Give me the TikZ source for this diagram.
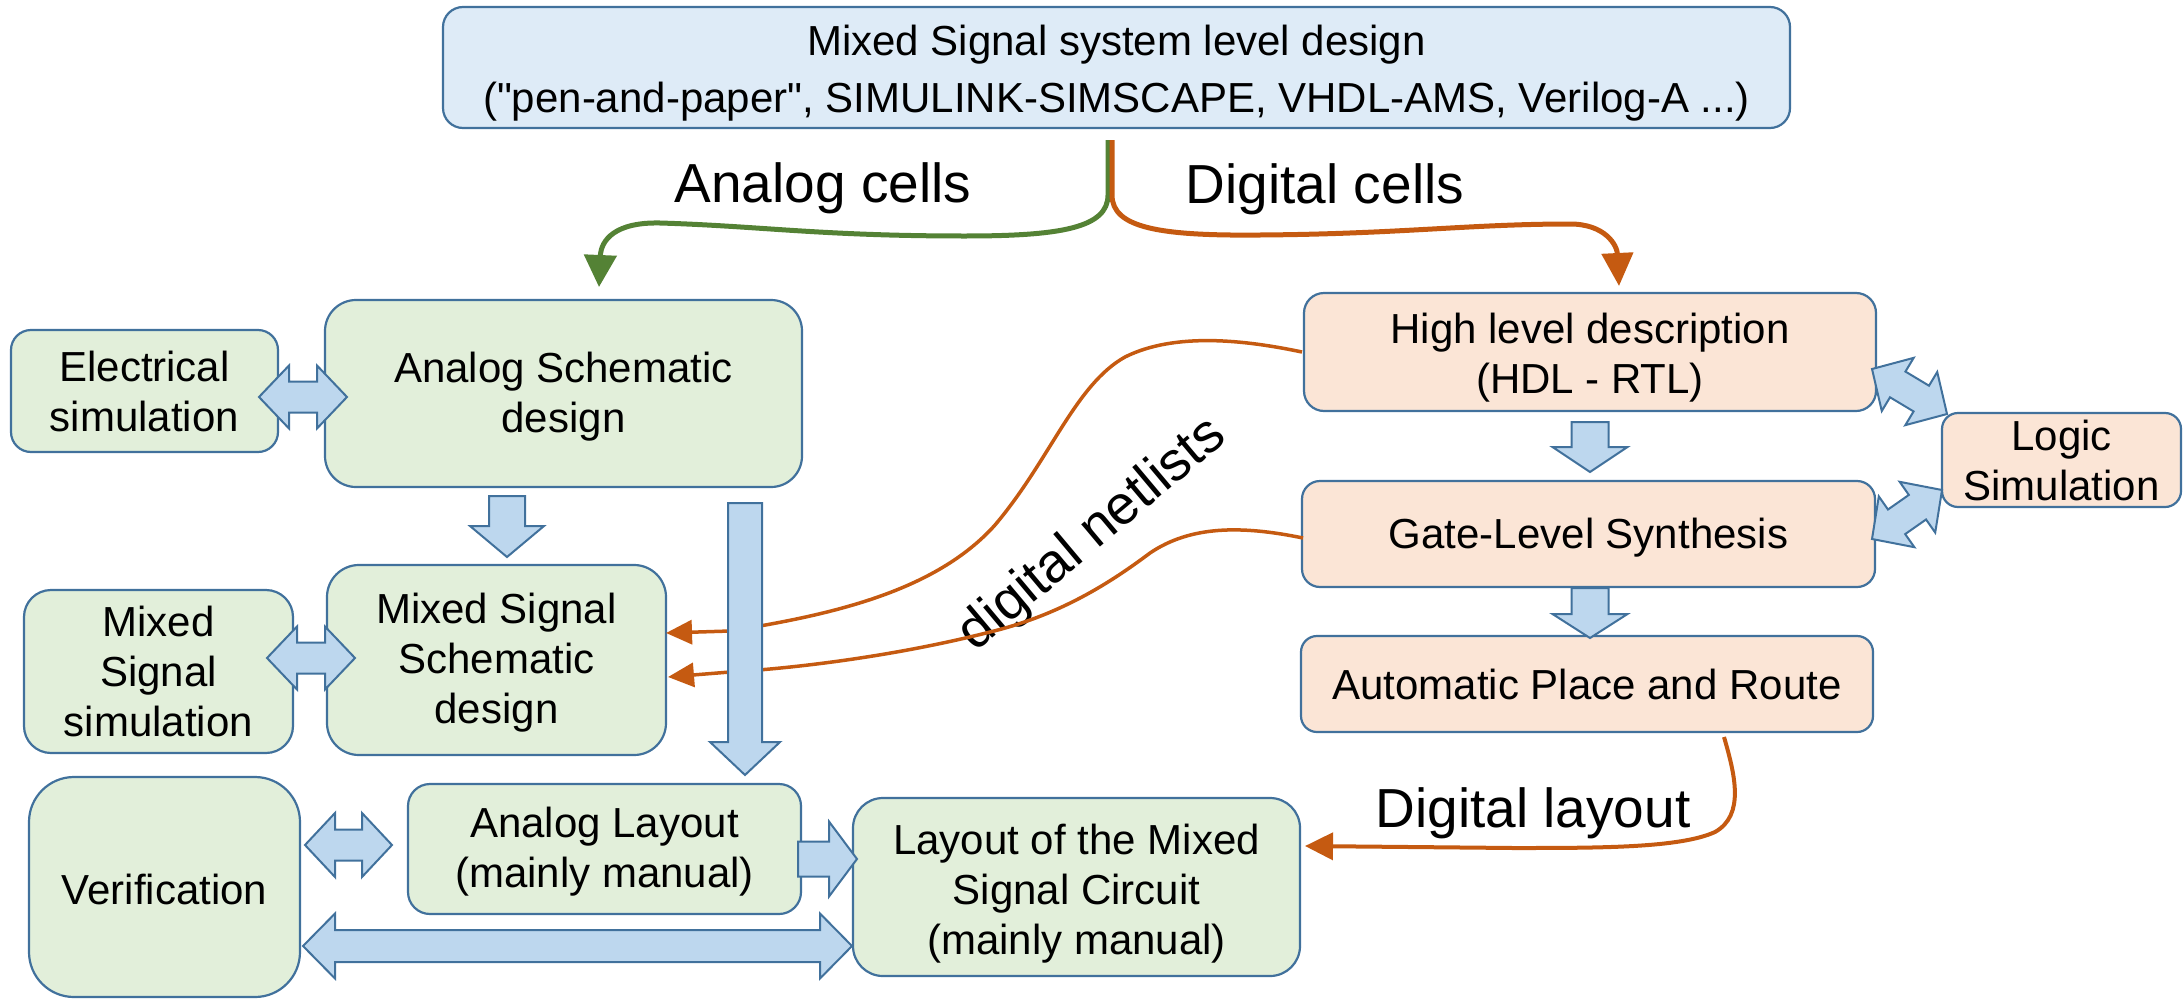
\documentclass[tikz,border=0pt]{standalone}
\usepackage{fontspec}
\setmainfont{Liberation Sans}[Ligatures=TeXOff]
\usetikzlibrary{calc,arrows.meta}
\definecolor{bordc}{HTML}{41719C}
\definecolor{gfill}{HTML}{E2EFDA}
\definecolor{ofill}{HTML}{FBE5D6}
\definecolor{bfill}{HTML}{DEEBF7}
\definecolor{afill}{HTML}{BDD7EE}
\definecolor{oline}{HTML}{C55A11}
\definecolor{gline}{HTML}{548235}
\tikzset{
  box/.style={draw=bordc,line width=2.2pt,inner sep=0pt,align=center,
    font=\fontsize{42}{50}\selectfont},
  gbox/.style={box,fill=gfill},
  obox/.style={box,fill=ofill},
  tbox/.style={box,fill=bfill},
  blk/.style={draw=bordc,fill=afill,line width=2pt,line join=miter},
  biglabel/.style={font=\fontsize{55}{60}\selectfont,inner sep=0pt},
  thickflow/.style={line width=5pt},
  thinflow/.style={line width=3.5pt,draw=oline},
}
\newcommand{\oneblk}[5]{%
 \draw[blk] ($(#1)!#3!90:(#2)$) -- ($(#2)!#5!(#1)!#3!-90:(#1)$) -- ($(#2)!#5!(#1)!#4!-90:(#1)$) -- (#2) -- ($(#2)!#5!(#1)!#4!90:(#1)$) -- ($(#2)!#5!(#1)!#3!90:(#1)$) -- ($(#1)!#3!-90:(#2)$) -- cycle;}
\newcommand{\twoblk}[5]{%
 \draw[blk] (#1) -- ($(#1)!#5!(#2)!#4!90:(#2)$) -- ($(#1)!#5!(#2)!#3!90:(#2)$) -- ($(#2)!#5!(#1)!#3!-90:(#1)$) -- ($(#2)!#5!(#1)!#4!-90:(#1)$) -- (#2) -- ($(#2)!#5!(#1)!#4!90:(#1)$) -- ($(#2)!#5!(#1)!#3!90:(#1)$) -- ($(#1)!#5!(#2)!#3!-90:(#2)$) -- ($(#1)!#5!(#2)!#4!-90:(#2)$) -- cycle;}
\begin{document}
\begin{tikzpicture}[x=1pt,y=-1pt]
\useasboundingbox (0,0) rectangle (2183,998);
% nodes
\node[tbox,minimum width=1347pt,minimum height=121pt,rounded corners=20pt] (top) at (1116.5,67.5) {};
\node[inner sep=0pt,align=center,font=\fontsize{42}{57}\selectfont] (topt) at (1116.5,73)
  {Mixed Signal system level design\\("pen-and-paper", SIMULINK-SIMSCAPE, VHDL-AMS, Verilog-A ...)};
\node[gbox,minimum width=267pt,minimum height=122pt,rounded corners=20pt] (elec) at (144.5,391) {Electrical\\simulation};
\node[gbox,minimum width=477pt,minimum height=187pt,rounded corners=31pt] (asd) at (563.5,393.5) {\rule{0pt}{36pt}Analog Schematic\\design};
\node[gbox,minimum width=339pt,minimum height=190pt,rounded corners=32pt] (mss) at (496.5,660) {\rule{0pt}{36pt}Mixed Signal\\Schematic\\design};
\node[gbox,minimum width=269pt,minimum height=163pt,rounded corners=27pt] (msim) at (158.5,671.5) {Mixed\\Signal\\simulation};
\node[gbox,minimum width=271pt,minimum height=220pt,rounded corners=45pt] (verif) at (164.5,887) {\rule{0pt}{36pt}Verification};
\node[gbox,minimum width=393pt,minimum height=130pt,rounded corners=22pt] (al) at (604.5,849) {\rule{0pt}{36pt}Analog Layout\\(mainly manual)};
\node[gbox,minimum width=447pt,minimum height=178pt,rounded corners=30pt] (lm) at (1076.5,887) {\rule{0pt}{44pt}Layout of the Mixed\\Signal Circuit\\(mainly manual)};
\node[obox,minimum width=572pt,minimum height=118pt,rounded corners=20pt] (hl) at (1590,352) {\rule{0pt}{41pt}High level description\\(HDL - RTL)};
\node[obox,minimum width=573pt,minimum height=106pt,rounded corners=18pt] (gate) at (1588.5,534) {\rule{0pt}{38pt}Gate-Level Synthesis};
\node[obox,minimum width=572pt,minimum height=96pt,rounded corners=16pt] (apr) at (1587,684) {Automatic Place and Route};
\node[obox,minimum width=239pt,minimum height=94pt,rounded corners=16pt] (logic) at (2061.5,460) {Logic\\Simulation};
% labels
\node[biglabel,anchor=base] (lac) at (823,202) {Analog cells};
\node[biglabel,anchor=base] (ldc) at (1325,203) {Digital cells};
\node[biglabel,anchor=base] (ldl) at (1533,827) {Digital layout};
\node[biglabel,rotate=40] (ldn) at (1093,535) {digital netlists};
% coordinates for flows
\coordinate (gs) at (1108,140);
\coordinate (os) at (1112,140);
\coordinate (gt) at (599,287);
\coordinate (ot) at (1619,286);
\coordinate (n1s) at (1302,352);
\coordinate (n1t) at (666,633);
\coordinate (n2s) at (1303,538);
\coordinate (n2t) at (668,677);
\coordinate (dls) at (1724,737);
\coordinate (dlt) at (1305,846);
% curved flows
\draw[thickflow,draw=gline,-{Triangle[length=32pt,width=32pt]}] (gs) -- (1108,195)
  .. controls (1108,228) and (1060,236) .. (965,236)
  .. controls (820,236) and (760,226) .. (660,223)
  .. controls (615,222) and (601,240) .. (gt);
\draw[thickflow,draw=oline,-{Triangle[length=33pt,width=31pt]}] (os) -- (1112,195)
  .. controls (1112,228) and (1160,236) .. (1260,235)
  .. controls (1400,234) and (1470,224) .. (1570,224)
  .. controls (1605,224) and (1617,245) .. (ot);
\draw[thinflow,-{Triangle[length=26pt,width=24pt]}] (n1s)
  .. controls (1245,340) and (1175,332) .. (1125,357)
  .. controls (1075,385) and (1050,460) .. (995,525)
  .. controls (935,592) and (830,615) .. (730,631) -- (n1t);
\draw[thinflow,-{Triangle[length=26pt,width=24pt]}] (n2s)
  .. controls (1240,525) and (1190,526) .. (1150,553)
  .. controls (1110,583) and (1060,615) .. (990,632)
  .. controls (900,655) and (800,668) .. (730,672) -- (n2t);
\draw[line width=4pt,draw=oline,-{Triangle[length=28pt,width=27pt]}] (dls)
  .. controls (1735,775) and (1745,815) .. (1715,832)
  .. controls (1680,848) and (1600,848) .. (1513,848) -- (dlt);
% block arrows
\coordinate (a1) at (259,397); \coordinate (b1) at (347,397);
\coordinate (a2) at (267,658); \coordinate (b2) at (355,658);
\coordinate (a3) at (305,845); \coordinate (b3) at (392,845);
\coordinate (a4) at (303,946); \coordinate (b4) at (852,946);
\coordinate (a5) at (798,859); \coordinate (b5) at (857,859);
\coordinate (a6) at (507,496); \coordinate (b6) at (507,557);
\coordinate (a7) at (745,503); \coordinate (b7) at (745,775);
\coordinate (a8) at (1590,422); \coordinate (b8) at (1590,472);
\coordinate (a9) at (1590,588); \coordinate (b9) at (1590,638);
\coordinate (a10) at (1872,369); \coordinate (b10) at (1947,414);
\coordinate (a11) at (1872,539); \coordinate (b11) at (1942,490);
\twoblk{a1}{b1}{15.5pt}{31.5pt}{30pt}
\twoblk{a2}{b2}{15.5pt}{31.5pt}{30pt}
\twoblk{a3}{b3}{15.5pt}{32pt}{30pt}
\twoblk{a4}{b4}{16pt}{32.5pt}{32pt}
\oneblk{a5}{b5}{17.5pt}{37.5pt}{28pt}
\oneblk{a6}{b6}{18pt}{37pt}{31pt}
\oneblk{a7}{b7}{17pt}{35pt}{33pt}
\oneblk{a8}{b8}{18.5pt}{37.5pt}{25pt}
\oneblk{a9}{b9}{18.5pt}{37.5pt}{24pt}
\twoblk{a10}{b10}{15pt}{31pt}{30pt}
\twoblk{a11}{b11}{15pt}{31pt}{30pt}
\end{tikzpicture}
\end{document}
